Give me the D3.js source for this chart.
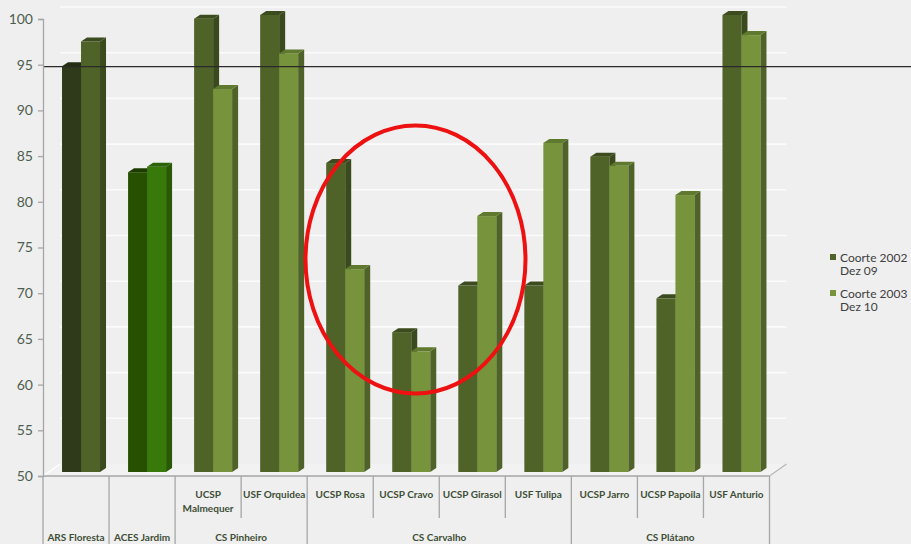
<!DOCTYPE html>
<html>
<head>
<meta charset="utf-8">
<script src="https://cdn.jsdelivr.net/npm/d3@7"></script>
<style>
  html, body { margin: 0; padding: 0; background: #efefef; }
  svg { display: block; }
  text { font-family: Lato, "Open Sans", sans-serif; }
</style>
</head>
<body>
<svg id="chart" width="911" height="544"></svg>
<script>
// ---- data ----
const categories = ["ARS Floresta","ACES Jardim","UCSP Malmequer","USF Orquidea","UCSP Rosa","UCSP Cravo","UCSP Girasol","USF Tulipa","UCSP Jarro","UCSP Papoila","USF Anturio"];
const unitLabels = [[], [], ["UCSP","Malmequer"], ["USF Orquidea"], ["UCSP Rosa"], ["UCSP Cravo"], ["UCSP Girasol"], ["USF Tulipa"], ["UCSP Jarro"], ["UCSP Papoila"], ["USF Anturio"]];
const groupNames = ["ARS Floresta","ACES Jardim","CS Pinheiro","CS Carvalho","CS Plátano"];
const groupSizes = [1, 1, 2, 4, 3];
const seriesNames = ["Coorte 2002 Dez 09", "Coorte 2003 Dez 10"];
const legendLines = [["Coorte 2002","Dez 09"],["Coorte 2003","Dez 10"]];
const values2002 = [94.4, 82.8, 99.6, 100.0, 83.8, 65.3, 70.4, 70.4, 84.5, 69.0, 100.0];
const values2003 = [97.1, 83.4, 91.9, 95.8, 72.2, 63.2, 78.0, 86.0, 83.5, 80.3, 97.8];
const referenceValue = 94.8;
const yTicks = [50,55,60,65,70,75,80,85,90,95,100];

// colours per category: [front, side, top] for each series
const palette = {
  default: [["#4f6228","#3a4a1c","#3c4c1e"],["#77933c","#4f6228","#5f7a2e"]],
  0: [["#2e3a19","#222b12","#232d13"],["#4f6228","#3a4a1c","#3c4c1e"]],
  1: [["#275000","#1c3a00","#1d3c00"],["#387a0a","#285a05","#2c6208"]]
};

const svg = d3.select("#chart");
const W = 911, H = 544;
const pLeft = 43, pRight = 769.5, pTop = 19, pBottom = 476;
const dxWall = 17, dyWall = 12;   // back wall depth offset
const dxBar = 5, dyBar = 4;       // bar front offset
const dxD = 6, dyD = 4;           // bar depth

const y = d3.scaleLinear().domain([50, 100]).range([pBottom, pTop]);
const x = d3.scaleBand().domain(categories).range([pLeft, pRight]);
const groupW = 38;
const xs = d3.scaleBand().domain(seriesNames).range([0, groupW]);

// background
svg.append("rect").attr("width", W).attr("height", H).attr("fill", "#efefef");

// floor
svg.append("path")
  .attr("d", `M${pLeft},${pBottom} L${pRight},${pBottom} L${pRight+dxWall},${pBottom-dyWall} L${pLeft+dxWall},${pBottom-dyWall} Z`)
  .attr("fill", "#f2f2f2").attr("stroke", "none");
svg.append("line").attr("x1", pRight).attr("y1", pBottom).attr("x2", pRight+dxWall).attr("y2", pBottom-dyWall)
  .attr("stroke", "#b8b8b8").attr("stroke-width", 1.2);
svg.append("line").attr("x1", pLeft).attr("y1", pBottom).attr("x2", pLeft+dxWall).attr("y2", pBottom-dyWall)
  .attr("stroke", "#ffffff").attr("stroke-width", 1.2);

// back wall gridlines
svg.append("g").selectAll("line").data(yTicks.slice(1)).join("line")
  .attr("x1", pLeft + dxWall).attr("x2", pRight + dxWall)
  .attr("y1", d => y(d) - dyWall).attr("y2", d => y(d) - dyWall)
  .attr("stroke", "#fbfbfb").attr("stroke-width", 1.6);

// bars
const barsG = svg.append("g");
categories.forEach((c, i) => {
  const pal = palette[i] || palette.default;
  [values2002[i], values2003[i]].forEach((v, s) => {
    const x0 = x(c) + (x.bandwidth() - groupW) / 2 + dxBar + xs(seriesNames[s]);
    const w = xs.bandwidth();
    const yt = y(v) - dyBar;
    const yb = y(50) - dyBar;
    const g = barsG.append("g");
    g.append("rect").attr("x", x0).attr("y", yt).attr("width", w).attr("height", yb - yt).attr("fill", pal[s][0]);
    g.append("path").attr("d", `M${x0+w},${yt} L${x0+w+dxD},${yt-dyD} L${x0+w+dxD},${yb-dyD} L${x0+w},${yb} Z`).attr("fill", pal[s][1]);
    g.append("path").attr("d", `M${x0},${yt} L${x0+dxD},${yt-dyD} L${x0+w+dxD},${yt-dyD} L${x0+w},${yt} Z`).attr("fill", pal[s][2]);
  });
});

// reference line
svg.append("line").attr("x1", pLeft).attr("x2", W)
  .attr("y1", y(referenceValue)).attr("y2", y(referenceValue))
  .attr("stroke", "#2a2a2a").attr("stroke-width", 1.3);

// y axis
const yAxis = svg.append("g").attr("transform", `translate(${pLeft},0)`)
  .call(d3.axisLeft(y).tickValues(yTicks).tickSize(5).tickPadding(5));
yAxis.select(".domain").attr("stroke", "#a6a6a6").attr("stroke-width", 1.3);
yAxis.selectAll(".tick line").attr("stroke", "#a6a6a6").attr("stroke-width", 1.3);
yAxis.selectAll(".tick text").attr("fill", "#4e5e4e").attr("font-size", 14).attr("font-family", "Lato, sans-serif");

// category axis
const axG = svg.append("g").attr("stroke", "#a6a6a6").attr("stroke-width", 1.3);
axG.append("line").attr("x1", pLeft).attr("x2", pRight).attr("y1", pBottom).attr("y2", pBottom);
const groupStarts = [];
let acc = 0;
groupSizes.forEach(n => { groupStarts.push(acc); acc += n; });
const boundaryIdx = new Set(groupStarts.concat([categories.length]));
d3.range(categories.length + 1).forEach(k => {
  const xx = k < categories.length ? x(categories[k]) : pRight;
  const isGroup = boundaryIdx.has(k);
  axG.append("line").attr("x1", xx).attr("x2", xx).attr("y1", pBottom).attr("y2", isGroup ? H : 518);
});

const textG = svg.append("g").attr("fill", "#3e4e36").attr("font-size", 10).attr("font-weight", 700).attr("text-anchor", "middle");
categories.forEach((c, i) => {
  const lines = unitLabels[i];
  const cx = x(c) + x.bandwidth() / 2;
  lines.forEach((t, j) => {
    textG.append("text").attr("x", cx).attr("y", 498 + j * 14).text(t);
  });
});
groupNames.forEach((g, gi) => {
  const a = x(categories[groupStarts[gi]]);
  const lastIdx = groupStarts[gi] + groupSizes[gi] - 1;
  const b = x(categories[lastIdx]) + x.bandwidth();
  textG.append("text").attr("x", (a + b) / 2).attr("y", 541).text(g);
});

// legend
const legend = svg.append("g");
const legendY = [257, 293];
legendLines.forEach((lines, s) => {
  const ly = legendY[s];
  legend.append("rect").attr("x", 830).attr("y", ly - 3).attr("width", 6).attr("height", 6).attr("fill", palette.default[s][0]);
  lines.forEach((t, j) => {
    legend.append("text").attr("x", 840).attr("y", ly + 4.5 + j * 13.5)
      .attr("font-size", 12).attr("fill", "#404040").text(t);
  });
});

// red ellipse annotation
svg.append("ellipse").attr("cx", 415.5).attr("cy", 259.5).attr("rx", 110).attr("ry", 134)
  .attr("fill", "none").attr("stroke", "#ee1111").attr("stroke-width", 4);
</script>
</body>
</html>
